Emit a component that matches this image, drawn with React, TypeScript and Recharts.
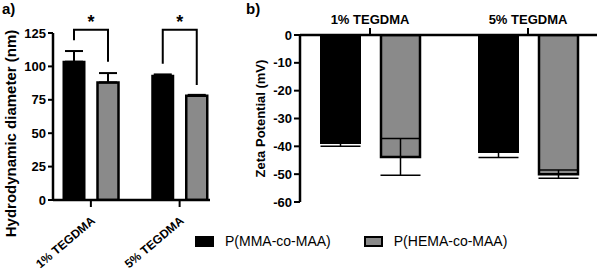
import React from 'react'
import { Bar, BarChart, ErrorBar, Legend, XAxis, YAxis } from 'recharts'

const categories = ['1% TEGDMA', '5% TEGDMA']
const seriesNames = ['P(MMA-co-MAA)', 'P(HEMA-co-MAA)']

// a) hydrodynamic diameter (nm), mean and upper SD
const sizeMMA = [103.5, 93]
const sizeMMAErr = [8, 1]
const sizeHEMA = [88, 78]
const sizeHEMAErr = [7, 0.7]
const sizeTicks = [0, 25, 50, 75, 100, 125]

// significance brackets per category (nm): top, left leg end, right leg end
const bracketTop = [127.5, 127.5]
const bracketLeft = [119.5, 102]
const bracketRight = [103.5, 86]

// b) zeta potential (mV), mean and SD
const zetaMMA = [-38.8, -42]
const zetaMMAErr = [1.2, 2]
const zetaHEMA = [-43.8, -50]
const zetaHEMAErr = [6.6, 1.5]
const zetaTicks = [0, -10, -20, -30, -40, -50, -60]

const sizeData = categories.map((c, i) => ({
  name: c,
  mma: sizeMMA[i],
  mmaErr: [0, sizeMMAErr[i]],
  hema: sizeHEMA[i],
  hemaErr: [0, sizeHEMAErr[i]]
}))

const zetaData = categories.map((c, i) => ({
  name: c,
  mma: zetaMMA[i],
  mmaErr: zetaMMAErr[i],
  hema: zetaHEMA[i],
  hemaErr: zetaHEMAErr[i]
}))

const font = '"Liberation Sans", Arial, sans-serif'
const gray = '#8a8a8a'
const tickStyle = { fontSize: 13, fontWeight: 'bold', fill: '#000', fontFamily: font }
const barA = 21
const gapA = 13

const AngledTick = (props: any) => {
  const { x, y, payload } = props
  return (
    <g transform={`translate(${x + 5},${y + 13})`}>
      <text textAnchor="end" transform="rotate(-40)" fontSize={12} fontWeight="bold" fill="#000" fontFamily={font}>
        {payload.value}
      </text>
    </g>
  )
}

// bracket + star drawn from the gray bar geometry
const Bracket = (props: any) => {
  const { x, y, width, height, value, index } = props
  const k = height / value
  const base = y + height
  const py = (v: number) => base - v * k
  const xr = x + width / 2
  const xl = xr - (barA + gapA)
  const top = py(bracketTop[index])
  return (
    <g>
      <polyline
        points={`${xl},${py(bracketLeft[index])} ${xl},${top} ${xr},${top} ${xr},${py(bracketRight[index])}`}
        fill="none"
        stroke="#000"
        strokeWidth={2}
      />
      <text x={(xl + xr) / 2} y={top - 2} textAnchor="middle" fontSize={18} fontWeight="bold" fill="#000" fontFamily={font}>
        *
      </text>
    </g>
  )
}

const LegendBox = () => (
  <div style={{ display: 'flex', alignItems: 'center', fontFamily: font, fontSize: 14, color: '#000' }}>
    <span style={{ width: 15, height: 7, background: '#000', border: '2px solid #000', display: 'inline-block' }} />
    <span style={{ marginLeft: 11, marginRight: 33 }}>{seriesNames[0]}</span>
    <span style={{ width: 15, height: 7, background: gray, border: '2px solid #000', display: 'inline-block' }} />
    <span style={{ marginLeft: 11 }}>{seriesNames[1]}</span>
  </div>
)

export default function App() {
  return (
    <div style={{ position: 'absolute', left: 0, top: 0, width: 600, height: 273, background: '#fff', fontFamily: font }}>
      <div style={{ position: 'absolute', left: 0, top: 0 }}>
        <BarChart width={600} height={273} data={zetaData} margin={{ top: 0, right: 3, left: 230, bottom: 71 }} barSize={39} barGap={21}>
          <XAxis
            dataKey="name"
            orientation="top"
            height={35}
            padding={{ left: -9, right: -10 }}
            axisLine={{ stroke: '#000', strokeWidth: 2.5 }}
            tickLine={{ stroke: '#000', strokeWidth: 2 }}
            tickSize={7}
            tickMargin={4}
            tick={tickStyle}
          />
          <YAxis
            width={70}
            domain={[-60, 0]}
            ticks={zetaTicks}
            allowDataOverflow
            axisLine={{ stroke: '#000', strokeWidth: 2.5 }}
            tickLine={{ stroke: '#000', strokeWidth: 2 }}
            tickSize={6}
            tickMargin={2}
            tick={tickStyle}
            label={{ value: 'Zeta Potential (mV)', angle: -90, position: 'insideLeft', offset: 30, style: { textAnchor: 'middle', fontSize: 13, fontWeight: 'bold', fill: '#000', fontFamily: font } }}
          />
          <Bar dataKey="mma" name={seriesNames[0]} fill="#000" stroke="#000" strokeWidth={2} isAnimationActive={false}>
            <ErrorBar dataKey="mmaErr" width={20} stroke="#000" strokeWidth={1.5} />
          </Bar>
          <Bar dataKey="hema" name={seriesNames[1]} fill={gray} stroke="#000" strokeWidth={2.5} isAnimationActive={false}>
            <ErrorBar dataKey="hemaErr" width={20} stroke="#000" strokeWidth={1.5} />
          </Bar>
          <Legend
            layout="horizontal"
            verticalAlign="middle"
            align="center"
            content={() => <LegendBox />}
            wrapperStyle={{ left: 195, top: 233, width: 400 }}
          />
        </BarChart>
      </div>
      <div style={{ position: 'absolute', left: 0, top: 0 }}>
        <BarChart width={230} height={273} data={sizeData} margin={{ top: 33, right: 20, left: 0, bottom: 0 }} barSize={barA} barGap={gapA}>
          <XAxis
            dataKey="name"
            height={73}
            padding={{ left: -6.5, right: -14 }}
            axisLine={{ stroke: '#000', strokeWidth: 2.5 }}
            tickLine={{ stroke: '#000', strokeWidth: 2 }}
            tickSize={7}
            tickMargin={2}
            tick={<AngledTick />}
            interval={0}
          />
          <YAxis
            width={53}
            domain={[0, 125]}
            ticks={sizeTicks}
            allowDataOverflow
            axisLine={{ stroke: '#000', strokeWidth: 2.5 }}
            tickLine={{ stroke: '#000', strokeWidth: 2 }}
            tickSize={5}
            tickMargin={2}
            tick={tickStyle}
            label={{ value: 'Hydrodynamic diameter (nm)', angle: -90, position: 'insideLeft', offset: 11, dy: 17, style: { textAnchor: 'middle', fontSize: 15, fontWeight: 'bold', fill: '#000', fontFamily: font } }}
          />
          <Bar dataKey="mma" fill="#000" stroke="#000" strokeWidth={2} isAnimationActive={false}>
            <ErrorBar dataKey="mmaErr" width={9} stroke="#000" strokeWidth={2} />
          </Bar>
          <Bar dataKey="hema" fill={gray} stroke="#000" strokeWidth={2.5} isAnimationActive={false} label={(p: any) => <Bracket {...p} />}>
            <ErrorBar dataKey="hemaErr" width={9} stroke="#000" strokeWidth={2} />
          </Bar>
        </BarChart>
      </div>
      <div style={{ position: 'absolute', left: 2, top: 0, fontSize: 15, fontWeight: 'bold' }}>a)</div>
      <div style={{ position: 'absolute', left: 246, top: 0, fontSize: 15, fontWeight: 'bold' }}>b)</div>
    </div>
  )
}
